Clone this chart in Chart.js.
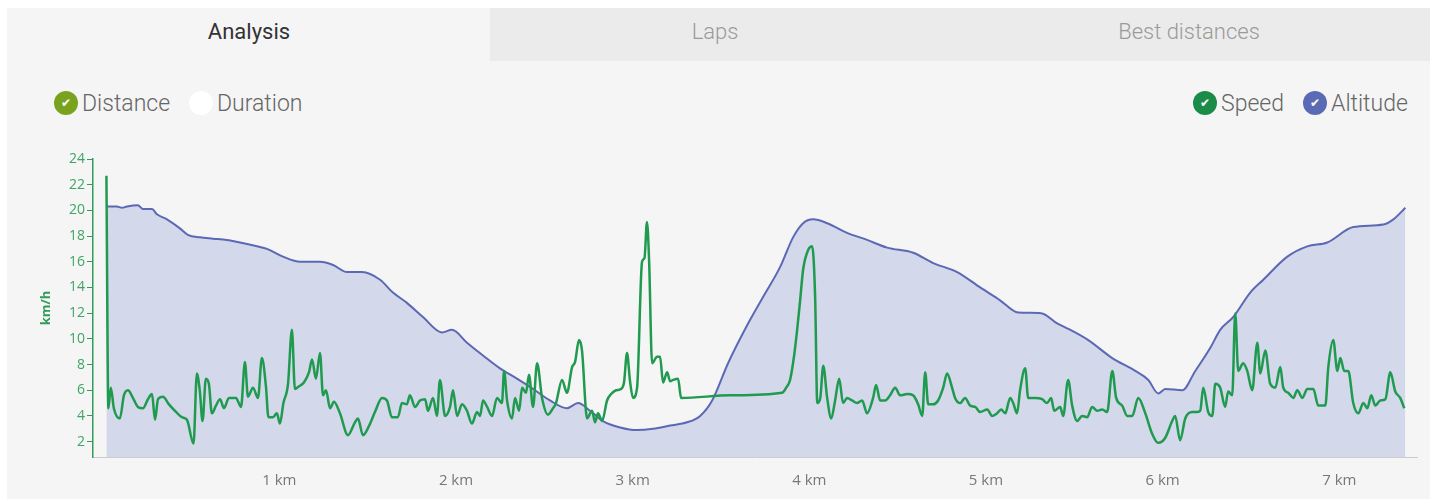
<!DOCTYPE html>
<html>
<head>
<meta charset="utf-8">
<script src="https://cdn.jsdelivr.net/npm/chart.js@4/dist/chart.umd.min.js"></script>
<style>
  body { margin: 0; background: #fff; font-family: Roboto, sans-serif; }
  #panel { position: absolute; left: 7px; top: 8px; width: 1423px; height: 491px; background: #f5f5f5; }
  #tabsOff { position: absolute; left: 490px; top: 8px; width: 940px; height: 53px; background: #ebebeb; }
  .tab { position: absolute; top: 19px; font-size: 22px; line-height: 26px; font-weight: 300; transform: translateX(-50%); white-space: nowrap; color: #9a9a9a; }
  .legend { position: absolute; top: 91px; height: 24px; display: flex; align-items: center; font-size: 23px; font-weight: 300; color: #666; white-space: nowrap; }
  .dot { width: 24px; height: 24px; border-radius: 50%; display: inline-flex; align-items: center; justify-content: center; color: #fff; font-size: 12px; font-family: "DejaVu Sans"; margin-right: 4px; }
  #wrap { position: absolute; left: 8px; top: 140px; width: 1422px; height: 350px; }
</style>
</head>
<body>
<div id="panel"></div>
<div id="tabsOff"></div>
<div class="tab" style="left:249px;color:#333;font-weight:400;">Analysis</div>
<div class="tab" style="left:715px;">Laps</div>
<div class="tab" style="left:1189px;">Best distances</div>

<div class="legend" style="left:54px;"><span class="dot" style="background:#79a31f;">✔</span>Distance</div>
<div class="legend" style="left:189px;"><span class="dot" style="background:#fff;"></span>Duration</div>
<div class="legend" style="left:1193px;"><span class="dot" style="background:#1a8c48;">✔</span>Speed</div>
<div class="legend" style="left:1303px;"><span class="dot" style="background:#5b6ab5;">✔</span>Altitude</div>

<div id="wrap"><canvas id="chart"></canvas></div>

<script>
// speed (km/h) against distance (km)
const speedKm = [
  0.021,0.032,0.046,0.063,0.097,0.120,0.143,0.171,0.199,0.228,0.256,0.279,
  0.296,0.313,0.341,0.375,0.409,0.448,0.477,0.514,0.533,0.550,0.565,0.584,
  0.601,0.618,0.641,0.664,0.686,0.715,0.754,0.783,0.805,0.822,0.851,0.879,
  0.901,0.924,0.938,0.964,0.986,1.003,1.023,1.049,1.071,1.088,1.111,1.139,
  1.168,1.185,1.207,1.230,1.247,1.264,1.287,1.309,1.343,1.388,1.428,1.445,
  1.473,1.507,1.541,1.581,1.609,1.637,1.671,1.694,1.722,1.739,1.768,1.796,
  1.825,1.841,1.870,1.892,1.909,1.938,1.966,1.983,2.006,2.034,2.062,2.090,
  2.119,2.136,2.153,2.176,2.204,2.232,2.260,2.272,2.289,2.317,2.334,2.357,
  2.374,2.396,2.413,2.436,2.459,2.487,2.521,2.549,2.566,2.600,2.628,2.657,
  2.674,2.696,2.713,2.742,2.770,2.787,2.804,2.827,2.855,2.878,2.906,2.934,
  2.951,2.968,2.985,3.002,3.025,3.053,3.067,3.081,3.093,3.110,3.138,3.155,
  3.172,3.195,3.212,3.229,3.257,3.274,3.551,3.846,3.869,3.891,3.914,3.931,
  3.948,3.965,3.993,4.016,4.033,4.045,4.062,4.079,4.101,4.124,4.146,4.169,
  4.191,4.214,4.242,4.270,4.299,4.327,4.361,4.378,4.401,4.429,4.457,4.486,
  4.514,4.554,4.588,4.616,4.639,4.656,4.673,4.701,4.729,4.758,4.780,4.808,
  4.825,4.854,4.882,4.910,4.939,4.967,5.007,5.035,5.063,5.086,5.109,5.137,
  5.154,5.176,5.193,5.222,5.239,5.279,5.318,5.346,5.369,5.386,5.420,5.437,
  5.465,5.488,5.516,5.544,5.573,5.601,5.630,5.658,5.686,5.715,5.737,5.771,
  5.800,5.828,5.862,5.902,5.941,5.975,6.015,6.054,6.071,6.099,6.128,6.168,
  6.196,6.213,6.230,6.258,6.281,6.298,6.326,6.354,6.371,6.394,6.411,6.428,
  6.456,6.479,6.507,6.536,6.553,6.581,6.609,6.638,6.666,6.683,6.711,6.740,
  6.762,6.791,6.819,6.853,6.881,6.921,6.938,6.966,6.989,7.006,7.028,7.051,
  7.079,7.108,7.136,7.159,7.181,7.204,7.232,7.261,7.289,7.317,7.345,7.368
];
const speedKmh = [
  22.7,4.6,6.2,4.6,3.8,5.6,6.0,5.4,4.7,4.6,5.3,5.7,
  3.7,5.3,5.5,4.9,4.4,3.9,3.7,1.85,7.3,5.9,3.6,6.9,
  6.5,4.2,4.8,5.3,4.6,5.4,5.4,4.7,8.2,5.5,6.2,5.4,
  8.5,6.3,3.9,3.9,4.2,3.4,5.0,6.5,10.7,6.1,6.3,6.6,
  7.4,8.4,6.9,8.9,5.6,6.0,4.6,5.1,4.2,2.5,3.5,3.8,
  2.5,3.2,4.3,5.4,5.2,3.9,3.9,5.0,4.9,5.6,4.7,5.2,
  5.3,4.4,5.4,4.0,6.8,4.0,4.7,6.0,4.0,4.9,4.4,3.4,
  4.3,4.0,5.2,4.7,4.0,5.4,5.0,7.5,5.2,3.8,5.4,4.4,
  6.2,5.8,7.2,4.7,8.1,5.4,4.1,4.6,5.0,6.8,5.8,7.8,
  8.2,9.9,9.1,3.8,4.4,3.5,4.2,3.6,5.2,5.7,6.0,6.1,
  6.6,8.9,6.7,5.4,6.2,16.0,16.3,19.1,16.1,8.1,8.6,8.6,
  6.6,7.4,6.7,6.8,6.9,5.4,5.6,5.8,6.2,6.8,8.7,10.7,
  13.0,15.4,16.9,17.2,13.2,5.0,5.4,7.9,5.4,3.8,5.2,6.9,
  5.0,5.4,5.2,5.0,5.2,4.2,5.4,6.4,5.2,5.2,5.6,6.2,
  5.6,5.7,5.6,4.9,4.0,7.4,4.9,4.9,5.2,6.2,7.3,6.2,
  5.4,5.0,5.4,4.8,4.7,4.3,4.5,4.0,4.2,4.5,4.2,5.4,
  5.0,4.2,6.0,7.7,5.4,5.4,5.3,5.0,5.4,4.4,4.7,4.0,
  6.8,4.8,3.6,4.0,3.9,4.7,4.4,4.5,4.3,7.5,5.4,4.8,
  4.0,4.0,5.4,4.2,2.6,1.9,2.3,3.6,4.0,2.1,3.8,4.3,
  4.3,4.4,6.2,4.3,4.0,6.5,6.2,4.7,5.9,5.6,12.0,7.5,
  8.1,7.5,6.0,9.7,7.3,9.1,6.5,6.2,7.8,6.2,5.8,5.4,
  6.0,5.4,6.1,6.1,4.8,4.8,7.8,9.9,7.5,8.5,7.5,7.5,
  5.0,4.2,5.0,4.6,5.6,4.8,5.2,5.3,7.4,5.9,5.4,4.6
];

// altitude profile (hidden axis, same range as speed axis)
const altKm = [
  0.021,0.080,0.109,0.137,0.199,0.228,0.279,0.307,0.364,0.437,0.482,0.550,
  0.624,0.703,0.777,0.873,0.930,1.020,1.117,1.230,1.304,1.383,1.468,1.570,
  1.643,1.722,1.813,1.921,1.977,2.062,2.153,2.249,2.345,2.436,2.532,2.628,
  2.691,2.759,2.832,2.929,3.025,3.116,3.212,3.308,3.382,3.450,3.540,3.642,
  3.738,3.835,3.908,3.965,4.021,4.101,4.214,4.327,4.440,4.588,4.701,4.837,
  4.967,5.080,5.182,5.312,5.403,5.448,5.579,5.715,5.845,5.919,5.975,6.015,
  6.111,6.185,6.270,6.326,6.400,6.496,6.570,6.706,6.819,6.932,7.079,7.249,
  7.306,7.374
];
const altVal = [
  20.3,20.3,20.2,20.3,20.4,20.1,20.1,19.7,19.3,18.6,18.1,17.9,
  17.8,17.7,17.5,17.2,17.0,16.4,16.0,16.0,15.75,15.2,15.2,14.6,
  13.6,12.8,11.7,10.5,10.7,9.7,8.7,7.7,6.9,6.1,5.2,4.6,
  5.0,4.4,3.6,3.1,2.9,3.0,3.25,3.5,4.0,5.2,8.1,10.9,
  13.25,15.6,17.9,19.0,19.3,19.0,18.25,17.7,17.1,16.7,15.9,15.2,
  14.0,13.0,12.05,12.0,11.2,10.9,9.9,8.5,7.5,6.8,5.75,6.1,
  6.0,7.5,9.3,10.7,11.7,13.6,14.6,16.4,17.2,17.5,18.7,18.9,
  19.3,20.2
];

const xTicks = [1, 2, 3, 4, 5, 6, 7];
const yTicks = [2, 4, 6, 8, 10, 12, 14, 16, 18, 20, 22, 24];

const green = "#2f9c5a";

const ctx = document.getElementById("chart").getContext("2d");
const chart = new Chart(ctx, {
  type: "line",
  data: {
    datasets: [
      {
        label: "Speed",
        data: speedKm.map((x, i) => ({ x: x, y: speedKmh[i] })),
        yAxisID: "y",
        borderColor: "#1f9a4f",
        borderWidth: 2.5,
        pointRadius: 0,
        cubicInterpolationMode: "monotone",
        fill: false
      },
      {
        label: "Altitude",
        data: altKm.map((x, i) => ({ x: x, y: altVal[i] })),
        yAxisID: "yAlt",
        borderColor: "#5b69b5",
        backgroundColor: "#d3d8ea",
        borderWidth: 2,
        pointRadius: 0,
        cubicInterpolationMode: "monotone",
        fill: "start"
      }
    ]
  },
  options: {
    responsive: true,
    maintainAspectRatio: false,
    animation: false,
    layout: { padding: { top: 19, right: 13, bottom: 0, left: 0 } },
    plugins: { legend: { display: false }, tooltip: { enabled: false } },
    scales: {
      x: {
        type: "linear",
        min: -0.055,
        max: 7.44,
        afterBuildTicks: (axis) => { axis.ticks = xTicks.map(v => ({ value: v })); },
        afterFit: (axis) => { axis.height = 33; },
        grid: { drawOnChartArea: false, drawTicks: false },
        border: { color: "#cccccc", width: 1 },
        ticks: {
          padding: 15,
          color: "#777",
          font: { family: "Open Sans", size: 15 },
          callback: (v) => v + " km"
        }
      },
      y: {
        position: "left",
        min: 0.8,
        max: 24,
        afterBuildTicks: (axis) => { axis.ticks = yTicks.map(v => ({ value: v })); },
        afterFit: (axis) => { axis.width = 85; },
        grid: { drawOnChartArea: false, color: green, tickLength: 6 },
        border: { color: green, width: 1.5 },
        ticks: { padding: 2, color: "#3fa566", font: { family: "Open Sans", size: 14 } },
        title: {
          display: true,
          text: "km/h",
          color: green,
          padding: { top: 30, bottom: 0 },
          font: { family: "Open Sans", size: 13, weight: "bold" }
        }
      },
      yAlt: {
        display: false,
        min: 0.8,
        max: 24
      }
    }
  }
});
</script>
</body>
</html>
